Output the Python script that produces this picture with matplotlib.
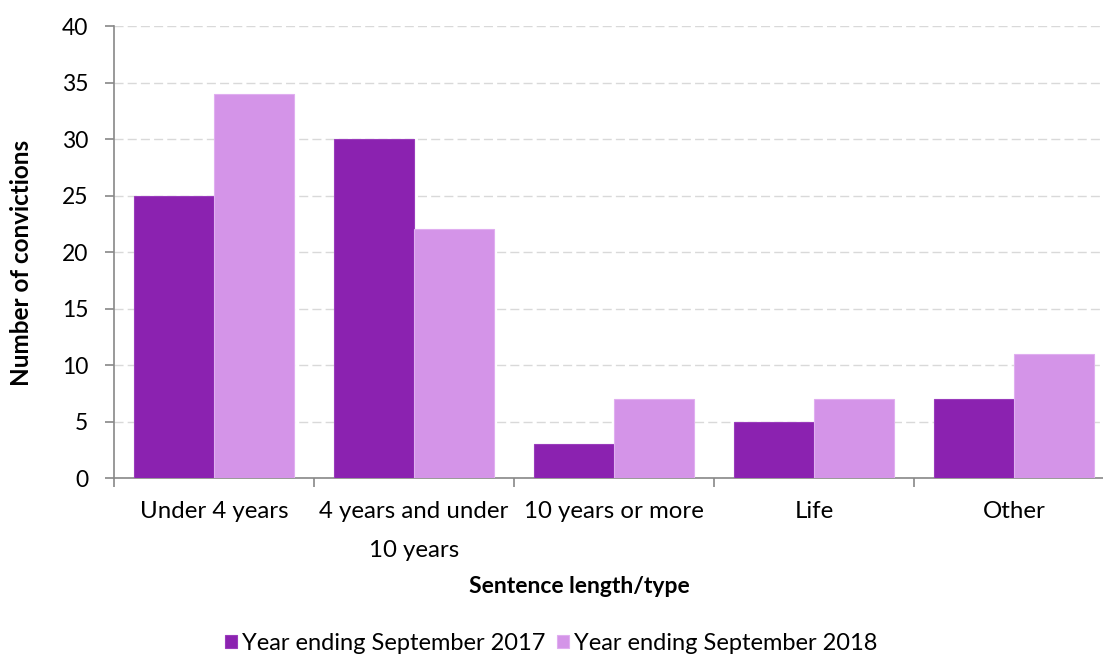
import matplotlib.pyplot as plt
import numpy as np

plt.rcParams['font.family'] = ['Lato', 'DejaVu Sans']

categories = ['Under 4 years', '4 years and under\n10 years', '10 years or more', 'Life', 'Other']
convictions_2017 = [25, 30, 3, 5, 7]
convictions_2018 = [34, 22, 7, 7, 11]
series_labels = ['Year ending September 2017', 'Year ending September 2018']

fig = plt.figure(figsize=(11.03, 6.55), dpi=100)
ax = fig.add_axes([0.1034, 0.2702, 0.8966, 0.6901])

x = np.arange(len(categories))
w = 0.4
ax.bar(x - w / 2, convictions_2017, w, color='#8B22B0', edgecolor='#9A3CBC', linewidth=0.8,
       label=series_labels[0], zorder=3)
ax.bar(x + w / 2, convictions_2018, w, color='#D494E8', edgecolor='#E0AEF0', linewidth=0.8,
       label=series_labels[1], zorder=3)

ax.set_ylim(0, 40)
ax.set_yticks(range(0, 41, 5))
ax.set_xlim(-0.5, 4.445)
ax.yaxis.grid(True, linestyle=(0, (6.5, 3)), color='#D9D9D9', linewidth=1, zorder=0)

ax.set_xticks(x)
ax.set_xticklabels(categories, fontsize=17.3, linespacing=2.05)
ax.set_xticks(np.arange(-0.5, 4.5, 1), minor=True)
ax.tick_params(axis='x', which='major', length=0, pad=16.5)
ax.tick_params(axis='x', which='minor', length=6.5, color='#888888', width=1.2)
ax.tick_params(axis='y', length=6.5, color='#888888', width=1.2, labelsize=16.5, pad=12)

for side in ['top', 'right']:
    ax.spines[side].set_visible(False)
for side in ['left', 'bottom']:
    ax.spines[side].set_color('#888888')
    ax.spines[side].set_linewidth(1.2)

ax.set_ylabel('Number of convictions', fontsize=17.5, fontweight='bold')
ax.yaxis.set_label_coords(-0.0824, 0.476)
ax.set_xlabel('Sentence length/type', fontsize=16.5, fontweight='bold')
ax.xaxis.set_label_coords(0.471, -0.2168)

fig.legend(loc='center', bbox_to_anchor=(0.5, 0.018), ncol=2, frameon=False, fontsize=17,
           handlelength=0.51, handleheight=0.51, handletextpad=0.21, columnspacing=0.5,
           borderpad=0, borderaxespad=0)

fig.savefig('out.png', dpi=100)
